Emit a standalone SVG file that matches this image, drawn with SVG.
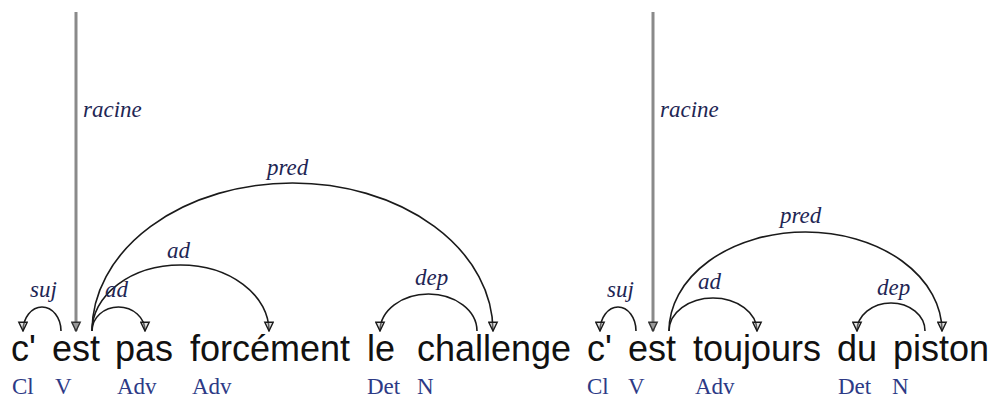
<svg xmlns="http://www.w3.org/2000/svg" width="993" height="398" viewBox="0 0 993 398">
<style>
.w{font-family:"Liberation Sans",Arial,sans-serif;font-size:36px;fill:#111}
.p{font-family:"Liberation Serif","Times New Roman",serif;font-size:23px;fill:#2d3a86}
.l{font-family:"Liberation Serif","Times New Roman",serif;font-size:23px;font-style:italic;fill:#1e2654}
.a{fill:none;stroke:#1a1a1a;stroke-width:1.6;marker-end:url(#ah)}
.r{fill:none;stroke:#8a8a8a;stroke-width:3;marker-end:url(#ahg)}
</style>
<defs>
<marker id="ah" markerUnits="userSpaceOnUse" markerWidth="11" markerHeight="11" viewBox="0 0 10 10" refX="9" refY="5" orient="auto">
<path d="M1,1.2 L9,5 L1,8.8 Z" fill="#bbb" fill-opacity="0.4" stroke="#1a1a1a" stroke-width="1.3"/>
</marker>
<marker id="ahg" markerUnits="userSpaceOnUse" markerWidth="11" markerHeight="11" viewBox="0 0 10 10" refX="9" refY="5" orient="auto">
<path d="M1,1.2 L9,5 L1,8.8 Z" fill="#999" stroke="#333" stroke-width="1.3"/>
</marker>
</defs>
<g id="connectors">
<path class="r" d="M76,12 L76,331"/>
<path class="a" d="M61,331 A19,24 0 0 0 23,331"/>
<path class="a" d="M92,331 A26.5,24 0 0 1 145,331"/>
<path class="a" d="M92,331 A88.5,66 0 0 1 269,331"/>
<path class="a" d="M92,331 A200.5,148 0 0 1 493,331"/>
<path class="a" d="M477,331 A48.5,37 0 0 0 380,331"/>
<path class="r" d="M653,12 L653,331"/>
<path class="a" d="M636,331 A18,24 0 0 0 600,331"/>
<path class="a" d="M669,331 A44,33 0 0 1 757,331"/>
<path class="a" d="M669,331 A136.5,99 0 0 1 942,331"/>
<path class="a" d="M925,331 A34,28 0 0 0 857,331"/>
<text class="l" x="83" y="117">racine</text>
<text class="l" x="30" y="297">suj</text>
<text class="l" x="105" y="297">ad</text>
<text class="l" x="167" y="258">ad</text>
<text class="l" x="267" y="175">pred</text>
<text class="l" x="415" y="285">dep</text>
<text class="l" x="660" y="117">racine</text>
<text class="l" x="607" y="297">suj</text>
<text class="l" x="698" y="289">ad</text>
<text class="l" x="780" y="223">pred</text>
<text class="l" x="877" y="295">dep</text>
</g>
<g id="n1"><text class="w" x="11" y="361">c'</text><text class="p" x="12" y="394">Cl</text></g>
<g id="n2"><text class="w" x="52" y="361">est</text><text class="p" x="55" y="394">V</text></g>
<g id="n3"><text class="w" x="115" y="361">pas</text><text class="p" x="117" y="394">Adv</text></g>
<g id="n4"><text class="w" x="190" y="361">forcément</text><text class="p" x="192" y="394">Adv</text></g>
<g id="n5"><text class="w" x="367" y="361">le</text><text class="p" x="367" y="394">Det</text></g>
<g id="n6"><text class="w" x="417" y="361">challenge</text><text class="p" x="417" y="394">N</text></g>
<g id="n7"><text class="w" x="587" y="361">c'</text><text class="p" x="587" y="394">Cl</text></g>
<g id="n8"><text class="w" x="628" y="361">est</text><text class="p" x="628" y="394">V</text></g>
<g id="n9"><text class="w" x="693" y="361">toujours</text><text class="p" x="695" y="394">Adv</text></g>
<g id="n10"><text class="w" x="837" y="361">du</text><text class="p" x="838" y="394">Det</text></g>
<g id="n11"><text class="w" x="893" y="361">piston</text><text class="p" x="892" y="394">N</text></g>
</svg>
